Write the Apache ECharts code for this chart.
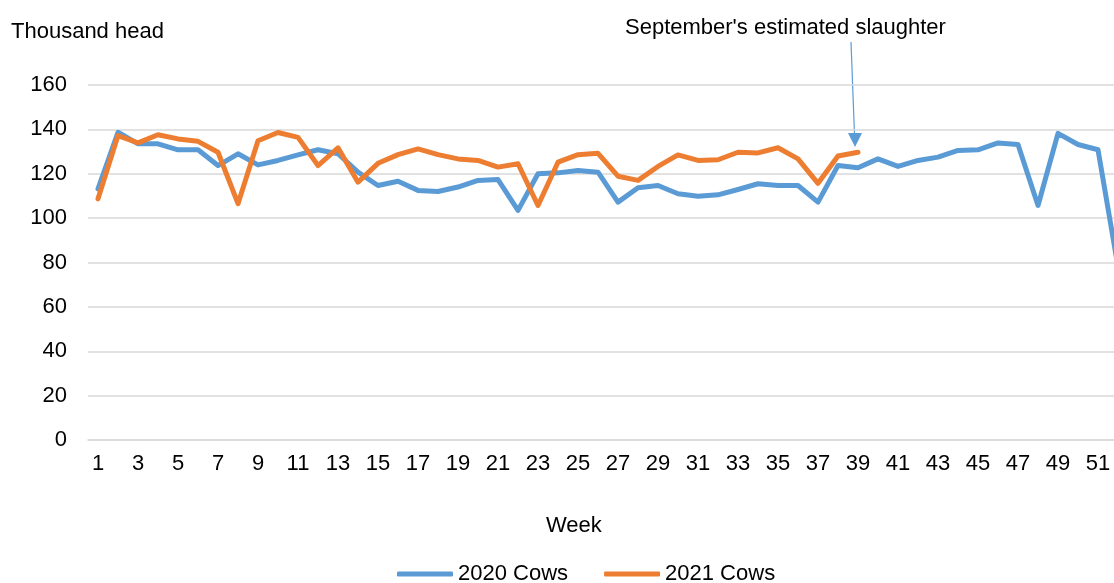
<!DOCTYPE html>
<html>
<head>
<meta charset="utf-8">
<script src="https://cdn.jsdelivr.net/npm/echarts@6/dist/echarts.min.js"></script>
<style>
  html, body { margin: 0; padding: 0; background: #fff; }
  #chart { width: 1114px; height: 583px; }
</style>
</head>
<body>
<div id="chart"></div>
<script>
const weeks = ['1','2','3','4','5','6','7','8','9','10','11','12','13','14','15','16','17','18','19','20',
  '21','22','23','24','25','26','27','28','29','30','31','32','33','34','35','36','37','38','39','40',
  '41','42','43','44','45','46','47','48','49','50','51','52']

const cows2020 = [113.2, 138.7, 133.5, 133.5, 130.8, 130.8, 123.7, 129, 124, 126,
  128.5, 130.8, 129, 120.7, 114.7, 116.6, 112.5, 112, 114, 117,
  117.4, 103.5, 120, 120.4, 121.5, 120.7, 107.2, 113.7, 114.7, 111,
  109.9, 110.5, 112.9, 115.5, 114.7, 114.7, 107.2, 123.7, 122.7, 126.7,
  123.3, 126, 127.5, 130.5, 130.8, 133.9, 133.2, 105.7, 138.2, 133.2,
  130.8, 78]

const cows2021 = [108.7, 137.2, 133.9, 137.6, 135.7, 134.6, 129.7, 106.5, 134.9, 138.6,
  136.4, 123.7, 131.7, 116.2, 124.7, 128.6, 131.2, 128.6, 126.7, 126,
  123, 124.5, 105.7, 125.2, 128.6, 129.2, 118.9, 117, 123.3, 128.5,
  126, 126.3, 129.7, 129.4, 131.7, 126.7, 115.7, 128, 129.7]

const font = 'Liberation Sans, Arial, sans-serif'
const txt = { color: '#000', fontFamily: font, fontSize: 22 }

const chart = echarts.init(document.getElementById('chart'))

chart.setOption({
  animation: false,
  // plot is wider than the window: week 52 falls outside on the right
  grid: { left: 88, width: 1040, top: 85, bottom: 143, outerBoundsMode: 'none', containLabel: false },
  title: [
    { text: 'Thousand head', left: 6, top: 16, textStyle: { ...txt, fontWeight: 'normal' } },
    { text: 'Week', left: 541, top: 510, textStyle: { ...txt, fontWeight: 'normal' } },
    { text: "September's estimated slaughter", left: 620, top: 12, textStyle: { ...txt, fontWeight: 'normal' } },
  ],
  legend: {
    left: 392,
    top: 558,
    icon: 'roundRect',
    itemWidth: 56,
    itemHeight: 5,
    itemGap: 36,
    textStyle: { ...txt },
    data: ['2020 Cows', '2021 Cows'],
  },
  xAxis: {
    type: 'category',
    data: weeks,
    boundaryGap: true,
    axisLine: { lineStyle: { color: '#d9d9d9', width: 1.5 } },
    axisTick: { show: false },
    axisLabel: { ...txt, interval: 1, margin: 13 },
  },
  yAxis: {
    type: 'value',
    min: 0,
    max: 160,
    interval: 20,
    axisLine: { show: false },
    axisTick: { show: false },
    axisLabel: { ...txt, margin: 21 },
    splitLine: { lineStyle: { color: '#d9d9d9', width: 1.5 } },
  },
  series: [
    {
      name: '2020 Cows',
      type: 'line',
      data: cows2020,
      symbol: 'none',
      itemStyle: { color: '#5b9bd5' },
      lineStyle: { color: '#5b9bd5', width: 5, cap: 'round', join: 'round' },
    },
    {
      name: '2021 Cows',
      type: 'line',
      data: cows2021,
      symbol: 'none',
      itemStyle: { color: '#ed7d31' },
      lineStyle: { color: '#ed7d31', width: 5, cap: 'round', join: 'round' },
    },
  ],
  graphic: [
    // annotation arrow
    { type: 'line', shape: { x1: 851, y1: 42, x2: 854.5, y2: 135 }, style: { stroke: '#5b9bd5', lineWidth: 1.2 } },
    { type: 'polygon', shape: { points: [[848, 133], [862, 133], [855, 147]] }, style: { fill: '#5b9bd5' } },
  ],
})
</script>
</body>
</html>
